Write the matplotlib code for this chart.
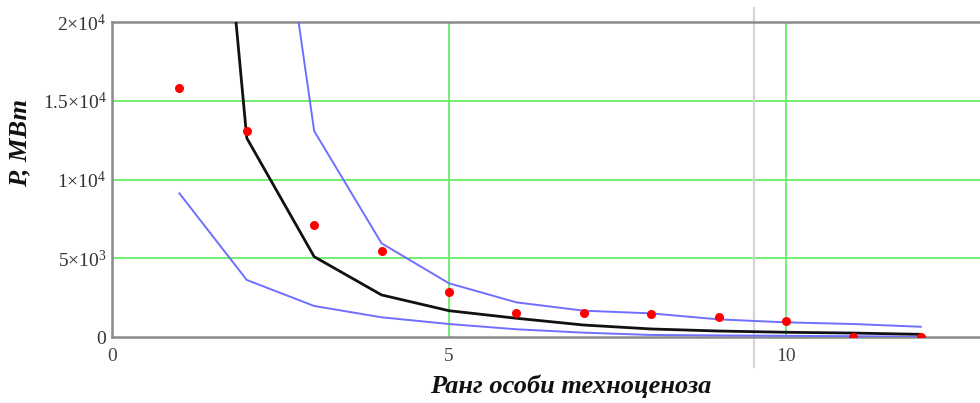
import matplotlib
matplotlib.use("Agg")
import matplotlib.pyplot as plt

plt.rcParams['mathtext.fontset'] = 'custom'
plt.rcParams['mathtext.rm'] = 'Liberation Serif'
plt.rcParams['mathtext.it'] = 'Liberation Serif:italic'
plt.rcParams['mathtext.bf'] = 'Liberation Serif:bold'
plt.rcParams['font.family'] = ['Liberation Serif', 'DejaVu Serif']

rank = [1, 2, 3, 4, 5, 6, 7, 8, 9, 10, 11, 12]
observed = [15810, 13100, 7110, 5480, 2880, 1540, 1510, 1490, 1290, 1020, 30, 10]
fitted = [58700, 12630, 5100, 2670, 1670, 1190, 760, 510, 380, 300, 250, 170]
upper_rank = [2, 3, 4, 5, 6, 7, 8, 9, 10, 11, 12]
upper = [43000, 13080, 5950, 3410, 2200, 1670, 1500, 1120, 930, 825, 650]
lower = [9120, 3620, 1970, 1250, 825, 490, 275, 130, 100, 75, 50, 20]

yticks = [0, 5000, 10000, 15000, 20000]
ytick_labels = ['0', r'$5{\times}10^{3}$', r'$1{\times}10^{4}$', r'$1.5{\times}10^{4}$', r'$2{\times}10^{4}$']
xticks = [0, 5, 10]
xtick_labels = ['0', '5', '10']
marker_x = 9.52

fig = plt.figure(figsize=(9.8, 4.03), dpi=100)
ax = fig.add_axes([112/980, 1 - 337/403, (980-112)/980, (337-22)/403])
ax.set_xlim(0, 12.88)
ax.set_ylim(0, 20000)

grid_c = '#66ee66'
for yv in yticks[1:-1]:
    ax.axhline(yv, color=grid_c, lw=1.3, zorder=1)
for xv in xticks[1:]:
    ax.axvline(xv, color=grid_c, lw=1.3, zorder=1)

ax.plot([marker_x, marker_x], [-0.095, 1.045], transform=ax.get_xaxis_transform(),
        color='#d4d4d4', lw=1.6, clip_on=False, zorder=1)

blue = '#6f6fff'
ax.plot(rank, lower, color=blue, lw=1.4, zorder=3)
ax.plot(upper_rank, upper, color=blue, lw=1.4, zorder=3)
ax.plot(rank, fitted, color='#111111', lw=2.0, zorder=4)
ax.plot(rank, observed, 'o', color='#ff0000', ms=6.5, mec='none', zorder=5)

ax.set_xticks(xticks)
ax.set_xticklabels(xtick_labels)
ax.set_yticks(yticks)
ax.set_yticklabels(ytick_labels)
ax.tick_params(length=0, labelsize=14, colors='#333333', pad=4)
for lab in ax.get_xticklabels():
    lab.set_color('#444444')
ax.tick_params(axis='x', pad=8)

for s in ['left', 'bottom', 'top']:
    ax.spines[s].set_color('#8a8a8a')
    ax.spines[s].set_linewidth(1.8)
ax.spines['right'].set_visible(False)

fig.text(20/980, 1 - 143/403, 'P, МВт', rotation=90, ha='center', va='center',
         fontsize=19, fontweight='bold', fontstyle='italic', color='#111111')
fig.text(571/980, 1 - 386/403, 'Ранг особи техноценоза', ha='center', va='center',
         fontsize=19, fontweight='bold', fontstyle='italic', color='#111111')

fig.savefig('out.png', dpi=100)
